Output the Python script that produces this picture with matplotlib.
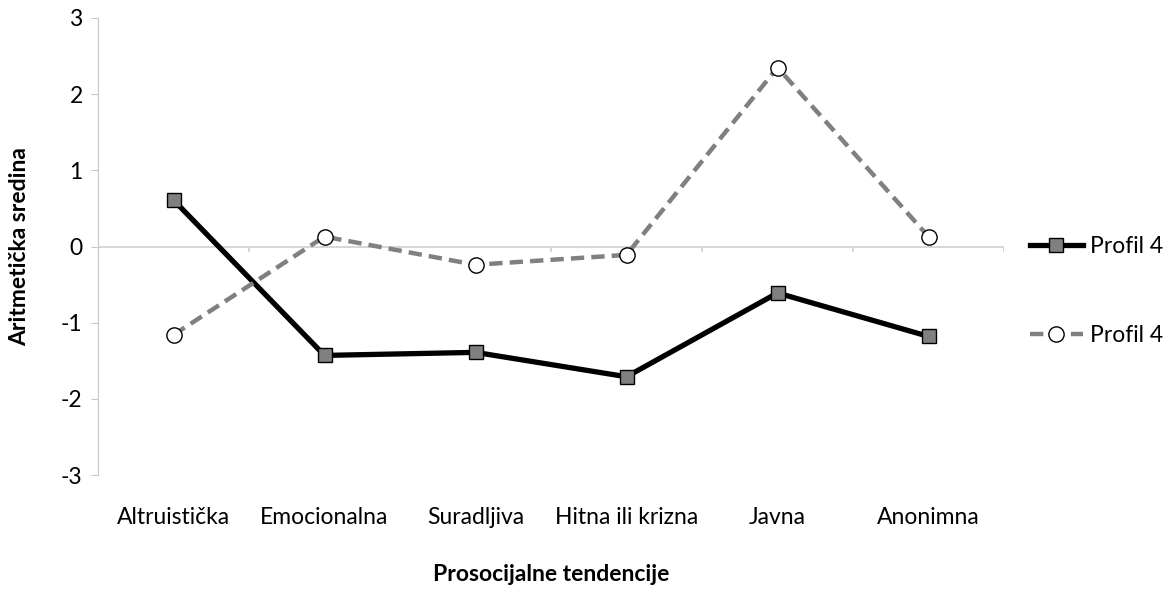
import numpy as np
import matplotlib.pyplot as plt

kategorije = ['Altruistička', 'Emocionalna', 'Suradljiva', 'Hitna ili krizna', 'Javna', 'Anonimna']
profil_a = [0.61, -1.43, -1.39, -1.71, -0.61, -1.18]
profil_b = [-1.16, 0.13, -0.24, -0.11, 2.35, 0.13]
oznake = ['Profil 4', 'Profil 4']

plt.rcParams['font.family'] = ['Lato', 'DejaVu Sans']
fs = 16.5

fig = plt.figure(figsize=(11.74, 5.93), dpi=100)
ax = fig.add_axes([98/1174, 1-475/593, (1004-98)/1174, (475-18)/593])

x = np.arange(len(kategorije))
ax.plot(x, profil_a, color='black', lw=3.8, marker='s', ms=10,
        mfc='#808080', mec='black', mew=1.0, label=oznake[0], zorder=3)
ax.plot(x, profil_b, color='#808080', lw=3.2, ls=(0, (3, 1.6)), marker='o', ms=11,
        mfc='white', mec='black', mew=1.0, label=oznake[1], zorder=3)

ax.set_xlim(-0.5, len(kategorije) - 0.5)
ax.set_ylim(-3, 3)
ax.set_yticks(range(-3, 4))
ax.set_yticklabels([str(v) for v in range(-3, 4)], fontsize=fs)
ax.set_xticks(x)
ax.set_xticklabels(kategorije, fontsize=fs)

for s in ['top', 'right', 'bottom']:
    ax.spines[s].set_visible(False)
ax.spines['left'].set_color('#c8c8c8')
ax.tick_params(axis='y', colors='#c8c8c8', length=5, labelcolor='black', pad=6)
ax.tick_params(axis='x', length=0, pad=23)

# nulta linija s oznakama kategorija
ax.axhline(0, color='#d0d0d0', lw=1.2, zorder=1)
ax.vlines(np.arange(len(kategorije) + 1) - 0.5, -0.07, 0, color='#d0d0d0', lw=1.2, zorder=1)

ax.set_xlabel('Prosocijalne tendencije', fontsize=fs, fontweight='bold', labelpad=26)
ax.set_ylabel('Aritmetička sredina', fontsize=fs, fontweight='bold', labelpad=22)

ax.legend(loc='upper left', bbox_to_anchor=(1.0287, 0.522), frameon=False,
          fontsize=fs, labelspacing=2.95, handlelength=2.3, handletextpad=0.3,
          borderpad=0, borderaxespad=0)

fig.savefig('out.png', dpi=100)
